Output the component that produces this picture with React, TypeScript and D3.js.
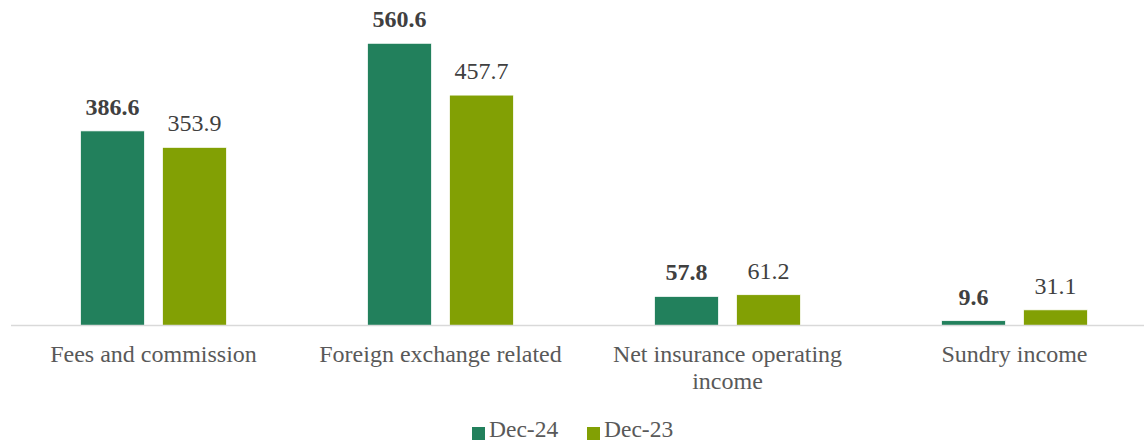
import React from "react";
import * as d3 from "d3";

const categories = [["Fees and commission"], ["Foreign exchange related"], ["Net insurance operating", "income"], ["Sundry income"]];
const seriesNames = ["Dec-24", "Dec-23"];
const dec24 = [386.6, 560.6, 57.8, 9.6];
const dec23 = [353.9, 457.7, 61.2, 31.1];
const colors = ["#22805C", "#82A004"];

export default function App() {
  const W = 1144, H = 444;
  const baseY = 325.5;
  const x0 = d3.scaleBand<number>().domain(d3.range(categories.length)).range([10, 1158]);
  const y = d3.scaleLinear().domain([0, 560.6]).range([baseY, 43.3]);
  const barW = 64, gap = 18;
  const series = [dec24, dec23];
  const font = '"Liberation Serif", "Times New Roman", serif';
  return (
    <svg width={W} height={H} style={{ position: "absolute", left: 0, top: 0, fontFamily: font }}>
      {categories.map((c, i) => {
        const cx = x0(i)! + x0.bandwidth() / 2;
        return (
          <g key={i}>
            {series.map((s, j) => {
              const bx = cx - gap / 2 - barW + j * (barW + gap);
              const top = y(s[i]);
              return (
                <g key={j}>
                  <rect x={bx} y={top} width={barW} height={baseY - top} fill={colors[j]} stroke="#ffffff" strokeWidth={0.75} />
                  <text x={bx + barW / 2} y={top - 16} textAnchor="middle" fontSize={24}
                    fontWeight={j === 0 ? "bold" : "normal"} fill="#404040">
                    {s[i].toFixed(1)}
                  </text>
                </g>
              );
            })}
            {c.map((line, k) => (
              <text key={k} x={cx} y={362 + k * 27} textAnchor="middle" fontSize={24} fill="#595959">{line}</text>
            ))}
          </g>
        );
      })}
      <line x1={11} x2={W} y1={baseY} y2={baseY} stroke="#D9D9D9" strokeWidth={1.5} />
      {seriesNames.map((n, j) => {
        const lx = j === 0 ? 472 : 587;
        return (
          <g key={n}>
            <rect x={lx} y={427} width={13} height={13} fill={colors[j]} />
            <text x={lx + 17} y={437} fontSize={23.5} fill="#595959">{n}</text>
          </g>
        );
      })}
    </svg>
  );
}
